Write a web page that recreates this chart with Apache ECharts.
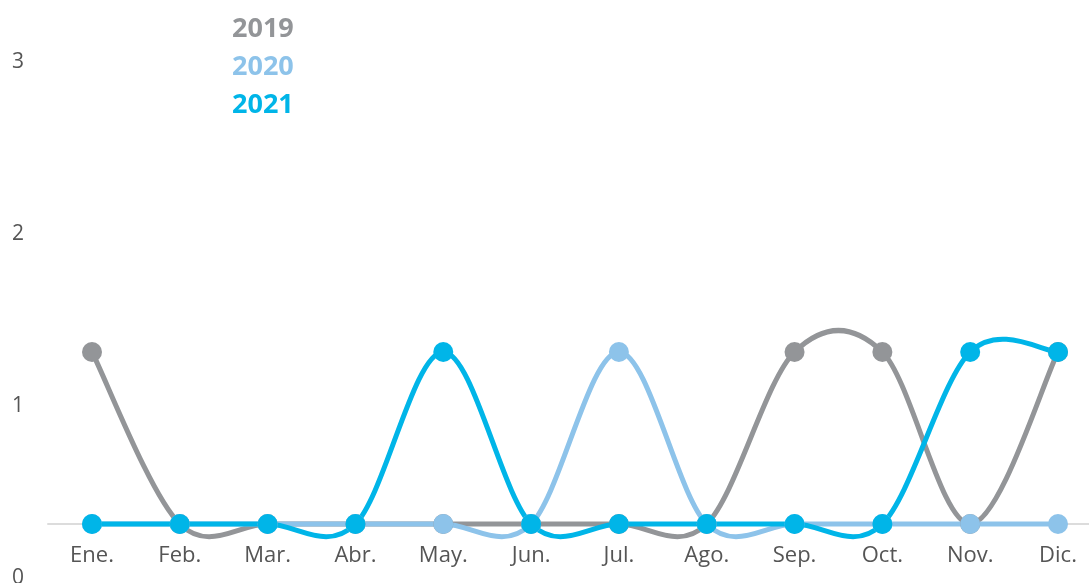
<!DOCTYPE html>
<html>
<head>
<meta charset="utf-8">
<script src="https://cdn.jsdelivr.net/npm/echarts@6/dist/echarts.min.js"></script>
<style>
  html, body { margin: 0; padding: 0; background: #fff; }
  #echart { width: 1089px; height: 583px; }
</style>
</head>
<body>
<div id="echart"></div>
<script>
// meses y valores
var months = ['Ene.', 'Feb.', 'Mar.', 'Abr.', 'May.', 'Jun.', 'Jul.', 'Ago.', 'Sep.', 'Oct.', 'Nov.', 'Dic.'];
var years = ['2019', '2020', '2021'];
var colors = ['#939598', '#8dc3ea', '#00b5e8'];
var v2019 = [1, 0, 0, 0, 0, 0, 0, 0, 1, 1, 0, 1];
var v2020 = [0, 0, 0, 0, 0, 0, 1, 0, 0, 0, 0, 0];
var v2021 = [0, 0, 0, 0, 1, 0, 0, 0, 0, 0, 1, 1];
var yTicks = [0, 1, 2, 3];

var myChart = echarts.init(document.getElementById('echart'));

// curva catmull-rom por tramos, usando las coordenadas del eje
function curveSeries(name, data, color) {
  return {
    name: name,
    type: 'custom',
    data: data.map(function (v, i) { return [i, v]; }),
    silent: true,
    renderItem: function (params, api) {
      var i = api.value(0);
      if (i >= data.length - 1) return;
      var p = function (k) {
        k = Math.max(0, Math.min(data.length - 1, k));
        return api.coord([k, data[k]]);
      };
      var p0 = p(i - 1), p1 = p(i), p2 = p(i + 1), p3 = p(i + 2);
      return {
        type: 'bezierCurve',
        shape: {
          x1: p1[0], y1: p1[1],
          x2: p2[0], y2: p2[1],
          cpx1: p1[0] + (p2[0] - p0[0]) / 6,
          cpy1: p1[1] + (p2[1] - p0[1]) / 6,
          cpx2: p2[0] - (p3[0] - p1[0]) / 6,
          cpy2: p2[1] - (p3[1] - p1[1]) / 6
        },
        style: { stroke: color, lineWidth: 5, fill: null, lineCap: 'round' }
      };
    }
  };
}

function dotSeries(name, data, color) {
  return {
    name: name,
    type: 'scatter',
    data: data,
    symbol: 'circle',
    symbolSize: 20,
    itemStyle: { color: color, opacity: 1 },
    emphasis: { disabled: true }
  };
}

var option = {
  animation: false,
  legend: {
    orient: 'vertical',
    left: 222,
    top: 11,
    icon: 'rect',
    itemWidth: 0,
    itemHeight: 0,
    itemGap: 11,
    data: years.map(function (y, i) {
      return { name: y, textStyle: { color: colors[i] } };
    }),
    textStyle: { fontSize: 27, fontWeight: 'bold', fontFamily: 'Open Sans' }
  },
  grid: [
    { left: 92, right: 31, top: 8, bottom: 59, outerBoundsMode: 'none' },
    { left: 48, right: 0, top: 8, bottom: 59, outerBoundsMode: 'none' }
  ],
  xAxis: [
    {
      type: 'category',
      data: months,
      boundaryGap: false,
      axisLine: { show: false },
      axisTick: { show: false },
      axisLabel: { color: '#555', fontSize: 22, margin: 21, fontFamily: 'Open Sans' }
    },
    {
      type: 'value',
      gridIndex: 1,
      axisLine: { show: true, lineStyle: { color: '#dcdcdc', width: 2 } },
      axisTick: { show: false },
      axisLabel: { show: false },
      splitLine: { show: false }
    }
  ],
  yAxis: [
    {
      type: 'value',
      min: yTicks[0],
      max: yTicks[yTicks.length - 1],
      interval: 1,
      axisLine: { show: false },
      axisTick: { show: false },
      splitLine: { show: false },
      axisLabel: {
        color: '#555',
        fontSize: 21,
        fontFamily: 'Open Sans',
        align: 'left',
        margin: 80,
        verticalAlign: 'top',
        lineHeight: 108
      }
    },
    {
      type: 'value',
      gridIndex: 1,
      show: false
    }
  ],
  series: [
    curveSeries(years[0], v2019, colors[0]),
    dotSeries(years[0], v2019, colors[0]),
    curveSeries(years[1], v2020, colors[1]),
    dotSeries(years[1], v2020, colors[1]),
    curveSeries(years[2], v2021, colors[2]),
    dotSeries(years[2], v2021, colors[2])
  ]
};

myChart.setOption(option);
</script>
</body>
</html>
